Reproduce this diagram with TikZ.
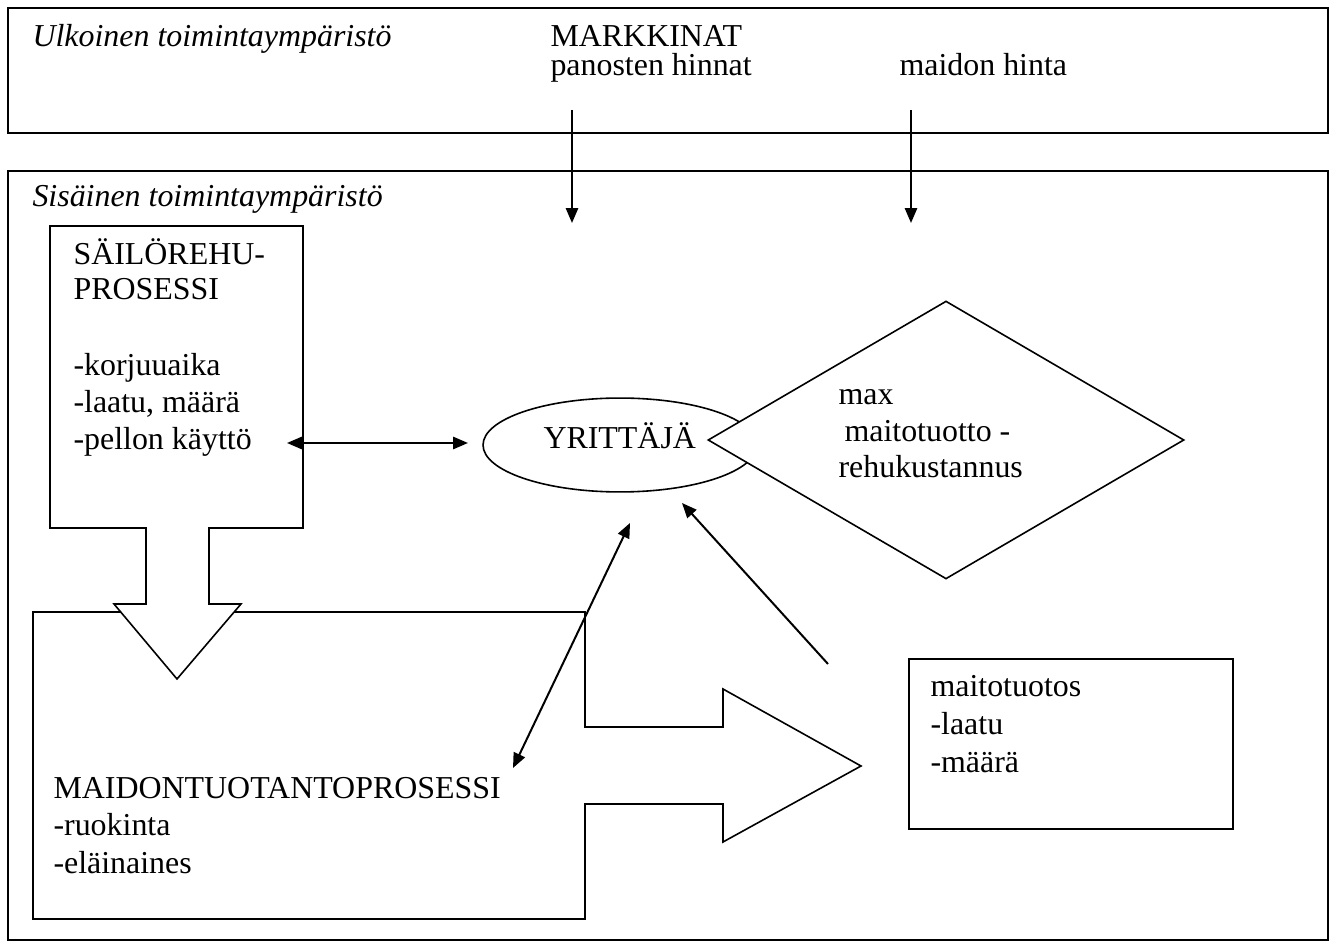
\documentclass[tikz,border=0pt]{standalone}
\usepackage{fontspec}
\setmainfont{Liberation Serif}
\usetikzlibrary{arrows.meta,shapes.geometric}
\begin{document}
\begin{tikzpicture}[x={(0.376pt,0)},y={(0,-0.376pt)},
  frame/.style={draw,line width=0.75pt},
  shapeline/.style={draw,line width=0.6pt,fill=white,line join=miter},
  conn/.style={line width=0.75pt,-{Triangle[length=5.6pt,width=4.6pt]}},
  dconn/.style={line width=0.75pt,{Triangle[length=5.6pt,width=4.6pt]}-{Triangle[length=5.6pt,width=4.6pt]}},
  txt/.style={anchor=base west,inner sep=0pt,font=\fontsize{12}{13.9}\selectfont},
  itxt/.style={txt,font=\fontsize{12}{13.9}\selectfont\itshape}]
\useasboundingbox (0,0) rectangle (1336,948);
% outer frames
\draw[frame] (8,8) rectangle (1328,133);
\draw[frame] (8,171) rectangle (1328,940);
% milk production process (block arrow to the right)
\draw[shapeline] (33,612) -- (585,612) -- (585,727) -- (723,727) -- (723,689)
  -- (861,766) -- (723,842) -- (723,804) -- (585,804) -- (585,919) -- (33,919) -- cycle;
% silage process (block arrow down)
\draw[shapeline] (50,226) -- (303,226) -- (303,528) -- (209,528) -- (209,604)
  -- (241,604) -- (177,679) -- (114,604) -- (146,604) -- (146,528) -- (50,528) -- cycle;
% entrepreneur ellipse and objective diamond
\node[ellipse,draw,line width=0.6pt,minimum width=103pt,minimum height=35.3pt,inner sep=0pt] (yr) at (620,445) {};
\node[diamond,draw,line width=0.6pt,fill=white,minimum width=179pt,minimum height=104.5pt,inner sep=0pt] (dia) at (946,440) {};
% milk output box
\draw[frame,line width=0.7pt] (909,659) rectangle (1233,829);
% connectors
\coordinate (m1s) at (572,110); \coordinate (m1e) at (572,223);
\coordinate (m2s) at (911,110); \coordinate (m2e) at (911,223);
\coordinate (d1a) at (287,443); \coordinate (d1b) at (468,443);
\coordinate (d2a) at (630,523); \coordinate (d2b) at (513,768);
\coordinate (a3s) at (828,664); \coordinate (a3e) at (682,503);
\draw[conn] (m1s) -- (m1e);
\draw[conn] (m2s) -- (m2e);
\draw[dconn] (d1a) -- (d1b);
\draw[dconn] (d2a) -- (d2b);
\draw[conn] (a3s) -- (a3e);
% texts
\node[itxt] (t1) at (32,47) {Ulkoinen toimintaympäristö};
\node[txt] (t2) at (550,47) {MARKKINAT};
\node[txt] (t3) at (550,76) {panosten hinnat};
\node[txt] (t4) at (899,76) {maidon hinta};
\node[itxt] (t5) at (32,207) {Sisäinen toimintaympäristö};
\node[txt] (s1) at (73,265) {SÄILÖREHU-};
\node[txt] (s2) at (73,300) {PROSESSI};
\node[txt] (s3) at (73,376) {-korjuuaika};
\node[txt] (s4) at (73,413) {-laatu, määrä};
\node[txt] (s5) at (73,450) {-pellon käyttö};
\node[txt] (y1) at (543,449) {YRITTÄJÄ};
\node[txt] (x1) at (838,405) {max};
\node[txt] (x2) at (844,442) {maitotuotto -};
\node[txt] (x3) at (838,478) {rehukustannus};
\node[txt] (p1) at (53,798) {MAIDONTUOTANTOPROSESSI};
\node[txt] (p2) at (53,835) {-ruokinta};
\node[txt] (p3) at (53,873) {-eläinaines};
\node[txt] (o1) at (930,697) {maitotuotos};
\node[txt] (o2) at (930,734) {-laatu};
\node[txt] (o3) at (930,772) {-määrä};
\end{tikzpicture}
\end{document}
